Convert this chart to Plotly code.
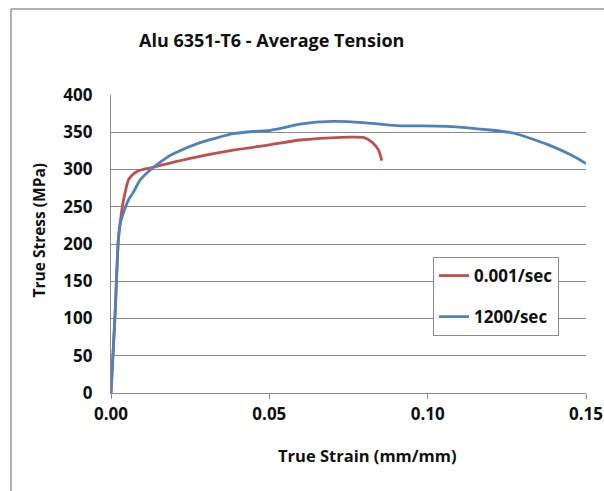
import plotly.graph_objects as go

# Data
red_name = "0.001/sec"
red_strain = [0, 0.0013, 0.0023, 0.0029, 0.0035, 0.0045, 0.0055, 0.0068, 0.0081, 0.010, 0.0123,
              0.018, 0.025, 0.0386, 0.05, 0.0597, 0.0692, 0.0755, 0.0797, 0.0823, 0.0845, 0.0855]
red_stress = [0, 107, 205, 228, 248, 270, 286, 293, 297, 300, 302,
              308, 315, 326, 333, 339.6, 342.5, 343.5, 343, 337, 326, 312]

blue_name = "1200/sec"
blue_strain = [0, 0.0013, 0.0023, 0.0028, 0.0034, 0.0055, 0.0070, 0.0092, 0.0123, 0.0134,
               0.0176, 0.0197, 0.0281, 0.0386, 0.0450, 0.0492, 0.0543, 0.0597, 0.0700, 0.0797,
               0.0902, 0.106, 0.1197, 0.127, 0.1376, 0.145, 0.150]
blue_stress = [0, 107, 205, 225, 235, 259, 269, 286, 299, 303,
               316, 321, 336, 348, 351, 352, 356, 361, 364.5, 363,
               359, 358, 353, 349, 334, 320, 308]

x_ticks = [0, 0.05, 0.10, 0.15]
x_ticklabels = ["0.00", "0.05", "0.10", "0.15"]
y_ticks = [0, 50, 100, 150, 200, 250, 300, 350, 400]

FONT = "Open Sans"
W, H = 604, 491
L, R, T, B = 111, 18, 95, 98
pw, ph = W - L - R, H - T - B


def px_x(p):
    return (p - L) / pw


def px_y(p):
    return (H - B - p) / ph


fig = go.Figure()
fig.add_trace(go.Scatter(x=red_strain, y=red_stress, mode="lines", name=red_name,
                         line=dict(color="#C0504D", width=2.8, shape="spline", smoothing=0.6),
                         legendgroup="a"))
fig.add_trace(go.Scatter(x=blue_strain, y=blue_stress, mode="lines", name=blue_name,
                         line=dict(color="#4F81BD", width=2.8, shape="spline", smoothing=0.6),
                         legendgroup="b"))

fig.update_layout(
    width=W, height=H,
    margin=dict(l=L, r=R, t=T, b=B, autoexpand=False),
    paper_bgcolor="white", plot_bgcolor="white",
    font=dict(family=FONT, color="#111111"),
    showlegend=True,
    legend=dict(x=px_x(433), y=px_y(257), xanchor="left", yanchor="top",
                bgcolor="white", bordercolor="#8a8a8a", borderwidth=1,
                font=dict(family=FONT, size=17, color="#111111", weight="bold"),
                tracegroupgap=16),
    xaxis=dict(range=[0, 0.15], tickvals=x_ticks, ticktext=x_ticklabels, automargin=False,
               showgrid=False, zeroline=False, showline=True, linecolor="#8a8a8a",
               linewidth=1.3, ticks="outside", ticklen=5, tickcolor="#8a8a8a",
               tickfont=dict(family=FONT, size=17, weight="bold", color="#111111")),
    yaxis=dict(range=[0, 400], tickvals=y_ticks, showgrid=True, gridcolor="#8a8a8a",
               gridwidth=1.3, zeroline=False, showline=True, linecolor="#8a8a8a",
               linewidth=1.3, ticks="", ticklabelstandoff=14, automargin=False,
               tickfont=dict(family=FONT, size=17, weight="bold", color="#111111")),
    annotations=[
        dict(text="Alu 6351-T6 - Average Tension", xref="paper", yref="paper",
             x=px_x(271), y=px_y(40), xanchor="center", yanchor="middle", showarrow=False,
             font=dict(family=FONT, size=18, weight="bold", color="#111111")),
        dict(text="True Strain (mm/mm)", xref="paper", yref="paper",
             x=px_x(367.5), y=px_y(455), xanchor="center", yanchor="middle", showarrow=False,
             font=dict(family=FONT, size=16.5, weight="bold", color="#111111")),
        dict(text="True Stress (MPa)", xref="paper", yref="paper", textangle=-90,
             x=px_x(38), y=px_y(230.5), xanchor="center", yanchor="middle", showarrow=False,
             font=dict(family=FONT, size=15.5, weight="bold", color="#111111")),
    ],
    shapes=[
        dict(type="line", xref="paper", yref="paper", x0=px_x(11), x1=px_x(11),
             y0=px_y(9), y1=px_y(491), line=dict(color="#999999", width=1.5)),
        dict(type="line", xref="paper", yref="paper", x0=px_x(11), x1=px_x(604),
             y0=px_y(9), y1=px_y(9), line=dict(color="#999999", width=1.5)),
    ],
)

fig.write_html("out.html")
